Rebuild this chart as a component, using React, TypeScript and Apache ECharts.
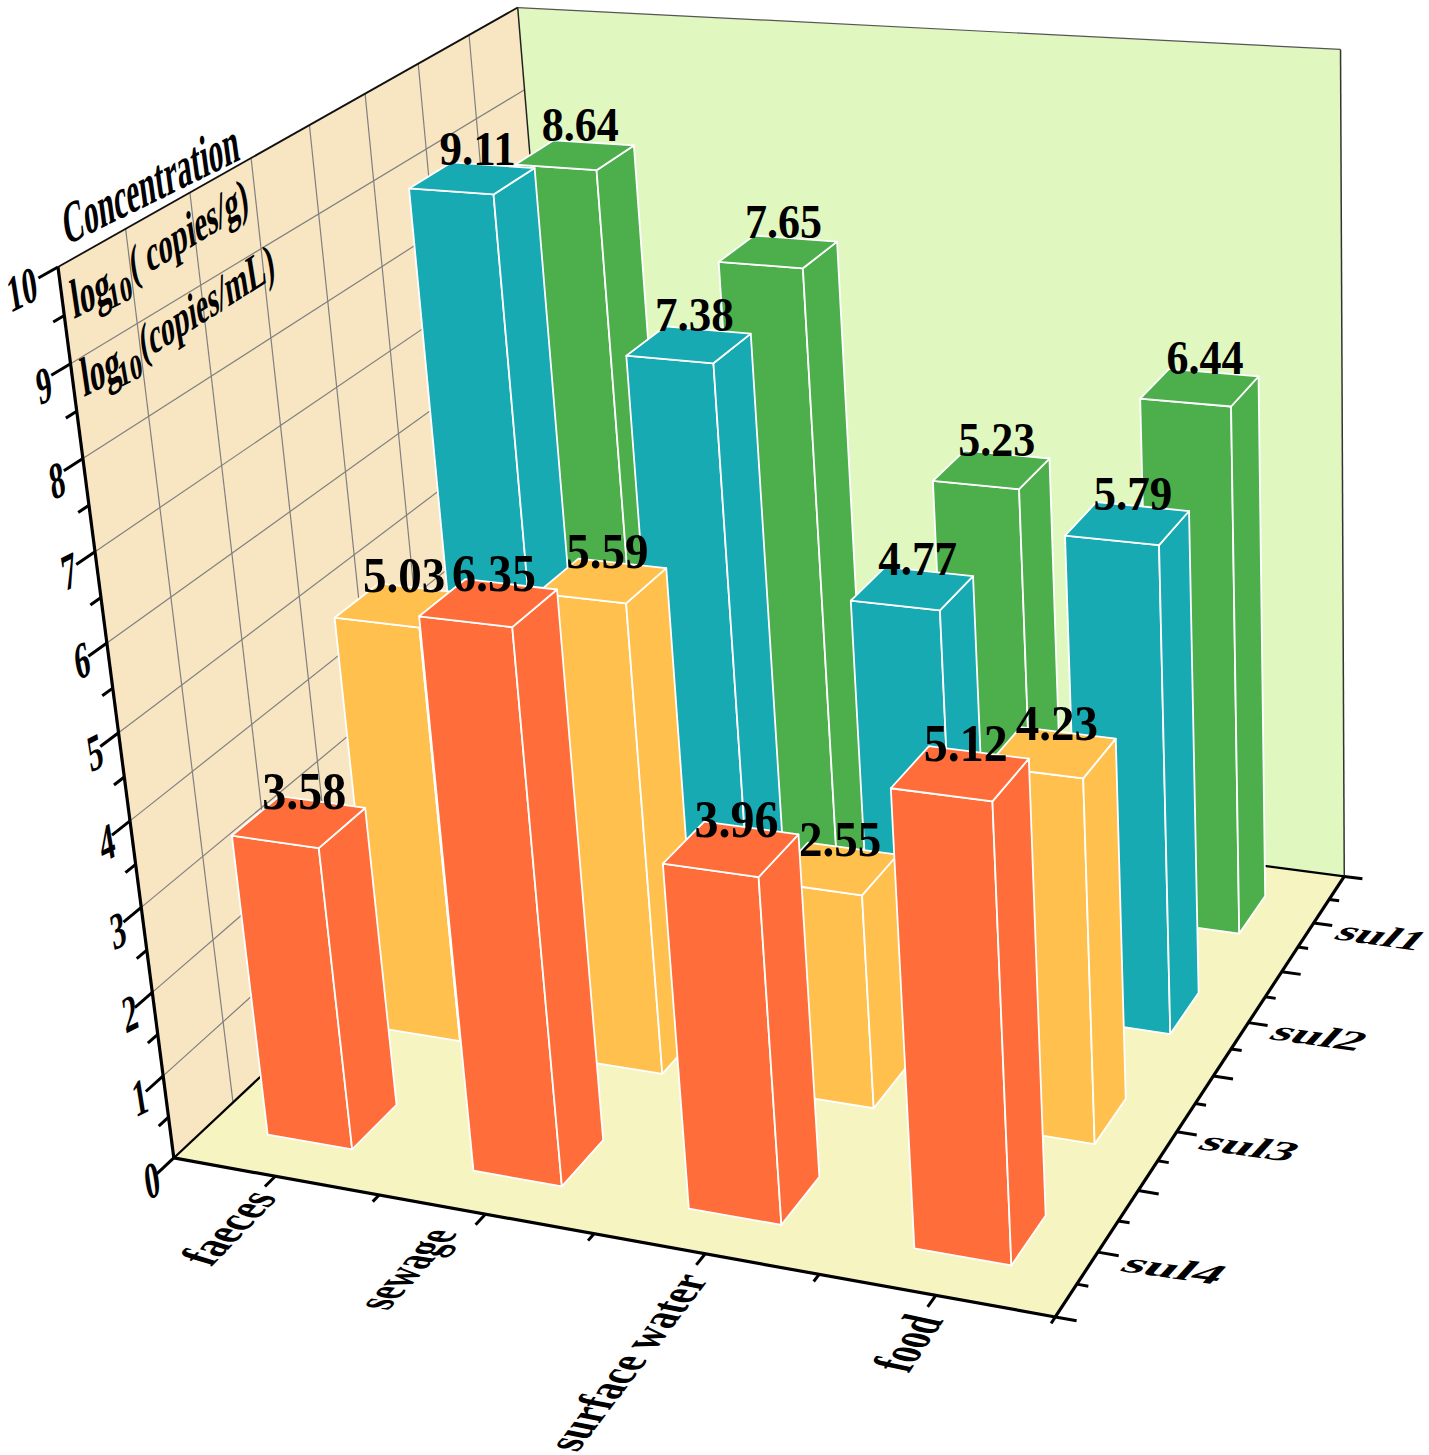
import React, { useEffect, useRef } from "react";
import * as echarts from "echarts";

const categories = ["faeces", "sewage", "surface water", "food"];
const rows = ["sul1", "sul2", "sul3", "sul4"];
const sul1 = [8.64, 7.65, 5.23, 6.44];
const sul2 = [9.11, 7.38, 4.77, 5.79];
const sul3 = [5.03, 5.59, 2.55, 4.23];
const sul4 = [3.58, 6.35, 3.96, 5.12];
const zTicks = [0, 1, 2, 3, 4, 5, 6, 7, 8, 9, 10];
const rowColors = ["#4CAF4C", "#17AAB3", "#FFC04D", "#FF6E3A"];
const rowValues = [sul1, sul2, sul3, sul4];

const W = 1429, H = 1455, ZMAX = 10;
const anchors = [
  [0, 0, 0, 175, 1157], [1, 0, 0, 1055, 1318], [0, 1, 0, 580, 777], [1, 1, 0, 1345, 875],
  [0, 0, 1, 57, 267], [0, 1, 1, 519, 7], [1, 1, 1, 1340, 50],
];

function solveCamera() {
  const A: number[][] = [], b: number[] = [];
  anchors.forEach(([X, Y, Z, x0, y0]) => {
    const x = x0 / 1000, y = y0 / 1000;
    A.push([X, Y, Z, 1, 0, 0, 0, 0, -x * X, -x * Y, -x * Z]); b.push(x);
    A.push([0, 0, 0, 0, X, Y, Z, 1, -y * X, -y * Y, -y * Z]); b.push(y);
  });
  const n = 11;
  const M: number[][] = [];
  for (let i = 0; i < n; i++) {
    const r: number[] = [];
    for (let j = 0; j < n; j++) r.push(A.reduce((s, a) => s + a[i] * a[j], 0));
    r.push(A.reduce((s, a, k) => s + a[i] * b[k], 0));
    M.push(r);
  }
  for (let i = 0; i < n; i++) {
    let p = i;
    for (let k = i + 1; k < n; k++) if (Math.abs(M[k][i]) > Math.abs(M[p][i])) p = k;
    [M[i], M[p]] = [M[p], M[i]];
    for (let k = 0; k < n; k++) {
      if (k === i) continue;
      const f = M[k][i] / M[i][i];
      for (let j = i; j <= n; j++) M[k][j] -= f * M[i][j];
    }
  }
  return M.map((r, i) => r[n] / r[i]);
}
const C = solveCamera();
const project = (u: number, v: number, w: number): [number, number] => {
  const d = C[8] * u + C[9] * v + C[10] * w + 1;
  return [
    (1000 * (C[0] * u + C[1] * v + C[2] * w + C[3])) / d,
    (1000 * (C[4] * u + C[5] * v + C[6] * w + C[7])) / d,
  ];
};

const FONT = '"Liberation Serif", "Times New Roman", serif';
// text placed with an affine map: a = screen image of text +x, b = image of text +y (down)
function affineText(text: string, x: number, y: number, a: number[], b: number[], size: number, align: string, weight = "bold") {
  const la = Math.hypot(a[0], a[1]);
  const det = a[0] * b[1] - a[1] * b[0];
  const sy = det / la;
  const shear = (a[0] * b[0] + a[1] * b[1]) / la;
  return {
    type: "text", x, y, rotation: -Math.atan2(a[1], a[0]), scaleX: la, scaleY: sy,
    skewX: Math.atan2(shear, sy), silent: true,
    style: { text, x: 0, y: 0, fill: "#000", font: `${weight} ${size}px ${FONT}`, align, verticalAlign: "middle" },
  };
}
const poly = (pts: number[][], fill: string, stroke = "none", lw = 0) => ({
  type: "polygon", silent: true, shape: { points: pts },
  style: { fill, stroke, lineWidth: lw, lineJoin: "round" },
});
const seg = (p: number[], q: number[], stroke: string, lineWidth: number) => ({
  type: "line", silent: true,
  shape: { x1: p[0], y1: p[1], x2: q[0], y2: q[1] },
  style: { stroke, lineWidth, lineCap: "butt" },
});

function renderFrame() {
  const c: any[] = [];
  const P = project;
  c.push(poly([P(0, 0, 0), P(0, 1, 0), P(0, 1, 1), P(0, 0, 1)], "#F8E6C3"));
  c.push(poly([P(0, 1, 0), P(1, 1, 0), P(1, 1, 1), P(0, 1, 1)], "#E0F8C0"));
  c.push(poly([P(0, 0, 0), P(1, 0, 0), P(1, 1, 0), P(0, 1, 0)], "#F6F4C0"));
  // left wall grid
  zTicks.slice(1, -1).forEach((z) => c.push(seg(P(0, 0, z / ZMAX), P(0, 1, z / ZMAX), "#808080", 1.2)));
  for (let i = 1; i < 8; i++) c.push(seg(P(0, i / 8, 0), P(0, i / 8, 1), "#808080", 1.2));
  // thin frame
  c.push(seg(P(0, 0, 1), P(0, 1, 1), "#111", 1.8));
  c.push(seg(P(0, 1, 1), P(1, 1, 1), "#555", 1.2));
  c.push(seg(P(0, 1, 0), P(0, 1, 1), "#222", 1.5));
  c.push(seg(P(1, 1, 0), P(1, 1, 1), "#333", 1.5));
  c.push(seg(P(0, 0, 0), P(0, 1, 0), "#000", 2.2));
  c.push(seg(P(0, 1, 0), P(1, 1, 0), "#000", 2.2));
  // thick axes
  c.push(seg(P(0, 0, 0), P(0, 0, 1), "#000", 3.2));
  c.push(seg(P(0, 0, 0), P(1, 0, 0), "#000", 3.2));
  c.push(seg(P(1, 0, 0), P(1, 1, 0), "#000", 3.2));
  // z ticks
  for (let z = 0; z <= ZMAX; z += 0.5) {
    const major = Number.isInteger(z);
    c.push(seg(P(0, 0, z / ZMAX), P(0, major ? -0.035 : -0.02, z / ZMAX), "#000", 3));
  }
  // category ticks
  for (let i = 1; i < 8; i++) {
    c.push(seg(P(i / 8, 0, 0), P(i / 8, i % 2 ? -0.022 : -0.014, 0), "#000", 3));
  }
  c.push(seg(P(1, 0, 0), P(1, -0.012, 0), "#000", 3));
  // row ticks
  for (let i = 0; i <= 16; i++) {
    const v = i / 16;
    c.push(seg(P(1, v, 0), P(i % 2 ? 1.012 : 1.022, v, 0), "#000", 3));
  }
  return { type: "group", children: c };
}

function renderBar(_: any, api: any) {
  const i = api.value(0), j = api.value(1), val = api.value(2);
  const u = (i + 0.5) / 4 - 0.0005, v = (3 - j + 0.5) / 4;
  const hu = 0.052, hv = 0.05, w = val / ZMAX;
  const u0 = u - hu, u1 = u + hu, v0 = v - hv, v1 = v + hv;
  const col = rowColors[j];
  const stroke = "#FFFFFF";
  return {
    type: "group",
    children: [
      poly([project(u0, v0, 0), project(u1, v0, 0), project(u1, v0, w), project(u0, v0, w)], col, stroke, 1.8),
      poly([project(u1, v0, 0), project(u1, v1, 0), project(u1, v1, w), project(u1, v0, w)], col, stroke, 1.8),
      poly([project(u0, v0, w), project(u1, v0, w), project(u1, v1, w), project(u0, v1, w)], col, stroke, 1.8),
    ],
  };
}

function renderBarLabel(_: any, api: any) {
  const i = api.value(0), j = api.value(1), val = api.value(2);
  const u = (i + 0.5) / 4, v = (3 - j + 0.5) / 4;
  const [x, y] = project(u, v, val / ZMAX);
  return {
    type: "text", x: x + 5, y: y - 30, silent: true, scaleY: 1.08,
    style: { text: val.toFixed(2), x: 0, y: 0, fill: "#000", font: `bold ${[44, 45, 47, 48][j]}px ${FONT}`, align: "center", verticalAlign: "middle" },
  };
}

function renderTexts() {
  const c: any[] = [];
  // z tick numbers
  const zPos: number[][] = [[152, 1180], [140, 1097], [130, 1013], [118, 930], [107, 842], [95, 752], [82, 660], [69, 571], [57, 480], [44, 385], [22, 289]];
  zTicks.forEach((z, k) => c.push(affineText(String(z), zPos[k][0], zPos[k][1], [0.72, -0.36], [0.2, 1.25], 40, "center")));
  // category labels, right-aligned at the axis side
  const cat = [
    { end: [262, 1193], a: [0.66, -0.68], b: [1.22, 0.37] },
    { end: [441, 1230], a: [0.59, -0.65], b: [1.32, 0.2] },
    { end: [693, 1275], a: [0.57, -0.75], b: [1.25, 0.25] },
    { end: [925, 1316], a: [0.47, -0.71], b: [1.38, 0.3] },
  ];
  categories.forEach((t, k) => c.push(affineText(t, cat[k].end[0], cat[k].end[1], cat[k].a, cat[k].b, 40, "right")));
  // row labels
  const rowL = [
    { s: [1340, 930], k: 1.22 }, { s: [1275, 1030], k: 1.29 },
    { s: [1204, 1140], k: 1.34 }, { s: [1126, 1262], k: 1.41 },
  ];
  rows.forEach((t, k) => c.push(affineText(t, rowL[k].s[0], rowL[k].s[1], [rowL[k].k, rowL[k].k * 0.14], [-0.6, 0.65], 40, "left")));
  // axis title
  const dir = [0.75, -0.37], down = [0.2, 1.35];
  c.push(affineText("Concentration", 63, 226, [0.71, -0.35], [0.2, 1.45], 40, "left"));
  const logLine = (x: number, y: number, rest: string, kx: number, ky: number) => {
    c.push(affineText("log", x, y, dir, down, 40, "left"));
    c.push(affineText("10", x + 37, y - 3, [0.6, -0.3], [0.15, 0.85], 40, "left"));
    c.push(affineText(rest, x + 59, y - 35, [kx, ky], [0.2, 1.25], 40, "left"));
  };
  logLine(71, 301, "( copies/g)", 0.68, -0.42);
  logLine(81, 379, "(copies/mL)", 0.66, -0.42);
  return { type: "group", children: c };
}

export default function App() {
  const ref = useRef<HTMLDivElement>(null);
  useEffect(() => {
    const chart = echarts.init(ref.current!, undefined, { renderer: "svg" });
    const barData: number[][] = [];
    rowValues.forEach((vals, j) => vals.forEach((val, i) => barData.push([i, j, val])));
    chart.setOption({
      animation: false,
      backgroundColor: "#FFFFFF",
      series: [
        { type: "custom", coordinateSystem: "none", silent: true, data: [[0]], renderItem: renderFrame, z: 1 },
        { type: "custom", coordinateSystem: "none", silent: true, data: barData, renderItem: renderBar, z: 2 },
        { type: "custom", coordinateSystem: "none", silent: true, data: barData, renderItem: renderBarLabel, z: 3 },
        { type: "custom", coordinateSystem: "none", silent: true, data: [[0]], renderItem: renderTexts, z: 4 },
      ],
    });
    return () => chart.dispose();
  }, []);
  return <div ref={ref} style={{ position: "absolute", left: 0, top: 0, width: W, height: H }} />;
}
